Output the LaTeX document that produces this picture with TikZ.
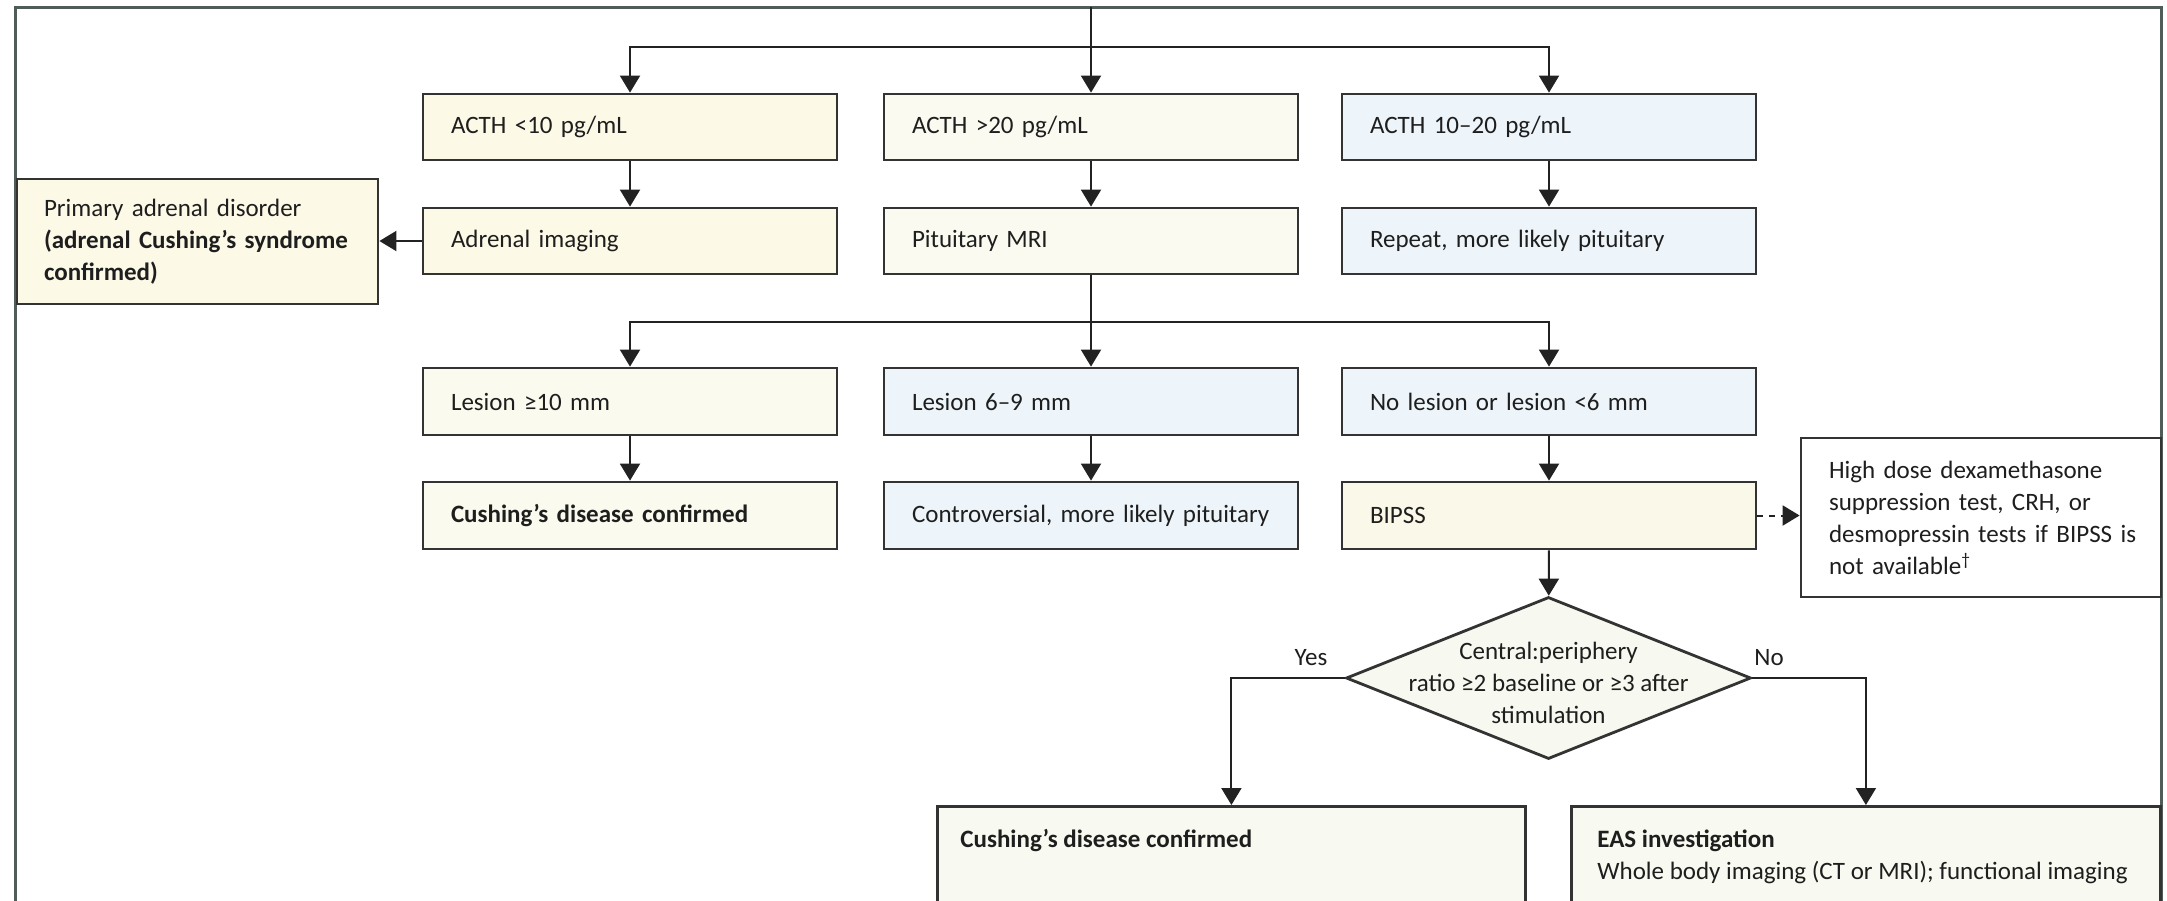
\documentclass[tikz,border=0pt]{standalone}
\usepackage{fontspec}
\setmainfont{Carlito}
\usetikzlibrary{arrows.meta,shapes.geometric,calc}
\definecolor{cream}{HTML}{FDF9E7}
\definecolor{pale}{HTML}{FAFAF0}
\definecolor{pale2}{HTML}{FAFAEE}
\definecolor{cream2}{HTML}{FAF9E9}
\definecolor{lblue}{HTML}{EDF5FA}
\definecolor{diafill}{HTML}{F7F8EF}
\definecolor{botfill}{HTML}{F8F9F0}
\definecolor{boxline}{HTML}{333333}
\definecolor{linec}{HTML}{222222}
\definecolor{framec}{HTML}{4F5C58}
\definecolor{textc}{HTML}{1E1E1E}
\begin{document}
\begin{tikzpicture}[x=0.5pt,y=-0.5pt,
  font=\fontsize{12.5}{16}\selectfont,
  base/.style={draw=boxline, line width=1.4pt, inner ysep=0pt, align=left, text=textc},
  rowbox/.style={base, minimum width=207pt, minimum height=33pt, text width=179pt, inner xsep=14pt},
  rowboxb/.style={rowbox, minimum height=33.5pt},
  botbox/.style={draw=boxline, line width=1.4pt, fill=botfill, inner sep=0pt, anchor=north west, minimum height=52pt},
  txt/.style={text=textc, inner sep=0pt, align=left},
  conn/.style={line width=1pt, draw=linec, -{Triangle[length=8.5pt,width=10pt]}},
  dconn/.style={conn, dash pattern=on 3pt off 3pt}]
\fill[white] (0,0) rectangle (2167,900);
\useasboundingbox (0,0) rectangle (2167,900);
\clip (0,0) rectangle (2167,900);
\draw[framec, line width=1.5pt] (15,7) rectangle (2161,920);

% row 1
\node[rowbox, fill=cream] (a1) at (630,127) {ACTH <10 pg/mL};
\node[rowbox, fill=pale] (a2) at (1091,127) {ACTH >20 pg/mL};
\node[rowbox, fill=lblue] (a3) at (1549,127) {ACTH 10–20 pg/mL};
% row 2
\node[rowbox, fill=cream] (b1) at (630,241) {Adrenal imaging};
\node[rowbox, fill=pale] (b2) at (1091,241) {Pituitary MRI};
\node[rowbox, fill=lblue] (b3) at (1549,241) {Repeat, more likely pituitary};
\node[base, fill=cream, minimum width=180.5pt, minimum height=62.5pt, text width=153.5pt, inner xsep=13.5pt] (pa) at (197.5,241.5)
  {Primary adrenal disorder\\ \textbf{\mbox{(adrenal Cushing’s syndrome}}\\ \textbf{confirmed)}};
% row 3
\node[rowboxb, fill=pale2] (l1) at (630,401.5) {Lesion ≥10 mm};
\node[rowboxb, fill=lblue] (l2) at (1091,401.5) {Lesion 6–9 mm};
\node[rowboxb, fill=lblue] (l3) at (1549,401.5) {No lesion or lesion <6 mm};
% row 4
\node[rowboxb, fill=pale2] (c1) at (630,515.5) {\textbf{Cushing’s disease confirmed}};
\node[rowboxb, fill=lblue] (c2) at (1091,515.5) {\mbox{Controversial, more likely pituitary}};
\node[rowboxb, fill=cream2] (c3) at (1549,515.5) {BIPSS};
% side box
\node[base, fill=white, minimum width=180pt, minimum height=79.5pt, text width=152pt, inner xsep=14pt] (hd) at (1981,517.5)
  {High dose dexamethasone\\ suppression test, CRH, or\\ \mbox{desmopressin tests if BIPSS is}\\ not available\textsuperscript{†}};
% diamond
\node[diamond, draw=boxline, line width=1.4pt, fill=diafill, minimum width=202.5pt, minimum height=81pt, inner sep=0pt,
  label={[align=center, text=textc, yshift=-2.5pt]center:{Central:periphery\\ ratio ≥2 baseline or ≥3 after\\ stimulation}}] (dia) at (1548.5,678) {};
% bottom boxes
\node[botbox, minimum width=294pt] (e1) at (936,805) {};
\node[botbox, minimum width=294.5pt] (e2) at (1570,805) {};
\node[txt, anchor=base west] (e1t) at (960,847) {\textbf{Cushing’s disease confirmed}};
\node[txt, anchor=base west] (e2t) at (1597,847) {\textbf{EAS investigation}};
\node[txt, anchor=base west] (e2u) at (1597,879) {Whole body imaging (CT or MRI); functional imaging};
% labels
\node[txt] (yes) at (1311,658) {Yes};
\node[txt] (no) at (1769,658) {No};

% connectors
\coordinate (top) at (1091,7);
\coordinate (s1) at (1091,47);
\coordinate (s2) at (1091,322);
\draw[conn] (top) -- (a2);
\draw[conn] (s1) -| (a1);
\draw[conn] (s1) -| (a3);
\draw[conn] (a1) -- (b1);
\draw[conn] (a2) -- (b2);
\draw[conn] (a3) -- (b3);
\draw[conn] (b1.west) -- (b1.west -| pa.east);
\draw[conn] (b2) -- (l2);
\draw[conn] (s2) -| (l1);
\draw[conn] (s2) -| (l3);
\draw[conn] (l1) -- (c1);
\draw[conn] (l2) -- (c2);
\draw[conn] (l3) -- (c3);
\draw[dconn] (c3.east) -- (c3.east -| hd.west);
\draw[conn] (c3) -- (dia);
\draw[conn] (dia.west) -| (e1);
\draw[conn] (dia.east) -| (e2);
\end{tikzpicture}
\end{document}
